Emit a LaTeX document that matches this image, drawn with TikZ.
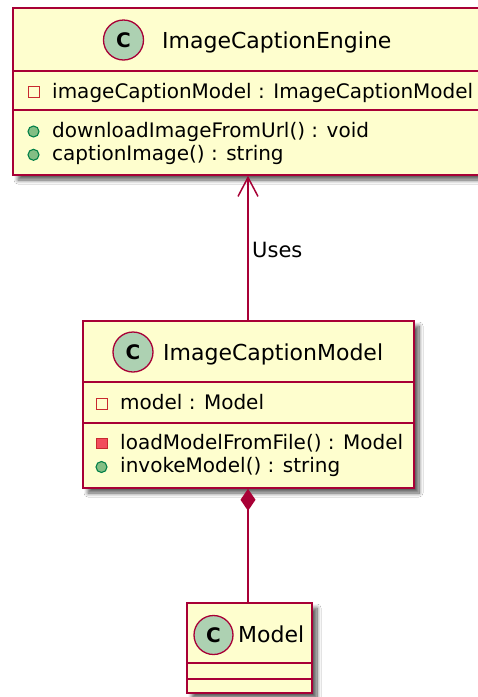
\documentclass[tikz,border=0pt]{standalone}
\usepackage{fontspec}
\setmainfont{DejaVu Sans}
\usetikzlibrary{arrows.meta,shadows.blur}

\definecolor{boxfill}{HTML}{FEFECE}
\definecolor{umlborder}{HTML}{A80036}
\definecolor{spotfill}{HTML}{ADD1B2}
\definecolor{privline}{HTML}{C82930}
\definecolor{privfill}{HTML}{F24D5C}
\definecolor{publine}{HTML}{038048}
\definecolor{pubfill}{HTML}{84BE84}

\tikzset{
  classbox/.style={draw=umlborder, fill=boxfill, line width=1.6pt, rectangle,
    inner sep=0pt,
    blur shadow={shadow xshift=5pt, shadow yshift=-5pt, shadow blur radius=4pt,
      shadow opacity=65, shadow blur steps=10}},
  sepline/.style={draw=umlborder, line width=1.6pt},
  spot/.style={circle, draw=umlborder, fill=spotfill, line width=1.3pt,
    minimum size=40pt, inner sep=0pt, font=\fontsize{20}{20}\selectfont\bfseries},
  titletext/.style={anchor=base west, inner sep=0pt, font=\fontsize{22}{22}\selectfont},
  membertext/.style={anchor=base west, inner sep=0pt, font=\fontsize{20}{20}\selectfont},
  privfield/.style={draw=privline, fill=boxfill, line width=1.1pt, minimum size=10.5pt,
    inner sep=0pt, rectangle},
  privmethod/.style={draw=privline, fill=privfill, line width=1.1pt, minimum size=10.5pt,
    inner sep=0pt, rectangle},
  pubmethod/.style={draw=publine, fill=pubfill, line width=1.1pt, minimum size=11pt,
    inner sep=0pt, circle},
  link/.style={draw=umlborder, line width=1.5pt},
  linklabel/.style={anchor=base west, inner sep=0pt, font=\fontsize{21}{21}\selectfont}
}

\begin{document}
\begin{tikzpicture}[x=1pt,y=-1pt]
\useasboundingbox (0,0) rectangle (478,697);
\fill[white] (0,0) rectangle (478,697);
\clip (0,0) rectangle (478,697);

% ImageCaptionEngine
\node[classbox, minimum width=469pt, minimum height=167pt] (engine) at (247.5,91.5) {};
\draw[sepline] (13,71) -- (482,71);
\draw[sepline] (13,110) -- (482,110);
\node[spot] (engspot) at (123.5,40) {C};
\node[titletext] (engname) at (162,48) {ImageCaptionEngine};
\node[privfield] (engf1) at (34,92) {};
\node[membertext] (engt1) at (52,98.3) {imageCaptionModel : ImageCaptionModel};
\node[pubmethod] (engm1) at (33.5,131.5) {};
\node[membertext] (engt2) at (52,137) {downloadImageFromUrl() : void};
\node[pubmethod] (engm2) at (33.5,154.8) {};
\node[membertext] (engt3) at (52,160.3) {captionImage() : string};

% ImageCaptionModel
\node[classbox, minimum width=331pt, minimum height=167pt] (capmodel) at (248.5,404.5) {};
\draw[sepline] (83,382) -- (414,382);
\draw[sepline] (83,423) -- (414,423);
\node[spot] (capspot) at (133,352) {C};
\node[titletext] (capname) at (163,360.5) {ImageCaptionModel};
\node[privfield] (capf1) at (102,404) {};
\node[membertext] (capt1) at (120,409.8) {model : Model};
\node[privmethod] (capm1) at (102,443.5) {};
\node[membertext] (capt2) at (120,449.3) {loadModelFromFile() : Model};
\node[pubmethod] (capm2) at (101.5,467) {};
\node[membertext] (capt3) at (120,472.6) {invokeModel() : string};

% Model
\node[classbox, minimum width=125pt, minimum height=90pt] (mdl) at (249.5,648) {};
\draw[sepline] (187,663) -- (312,663);
\draw[sepline] (187,679) -- (312,679);
\node[spot, minimum size=39pt] (mdlspot) at (213.5,635) {C};
\node[titletext] (mdlname) at (238,642) {Model};

% relations
\draw[link, -{Straight Barb[length=19pt, width=20pt, line width=1.5pt]}]
  (capmodel.north -| 248,0) -- (engine.south -| 248,0);
\node[linklabel] (uses) at (252,257) {Uses};
\draw[link, {Diamond[length=22pt, width=15pt, fill=umlborder]}-]
  (capmodel.south -| 248,0) -- (mdl.north -| 248,0);
\end{tikzpicture}
\end{document}
